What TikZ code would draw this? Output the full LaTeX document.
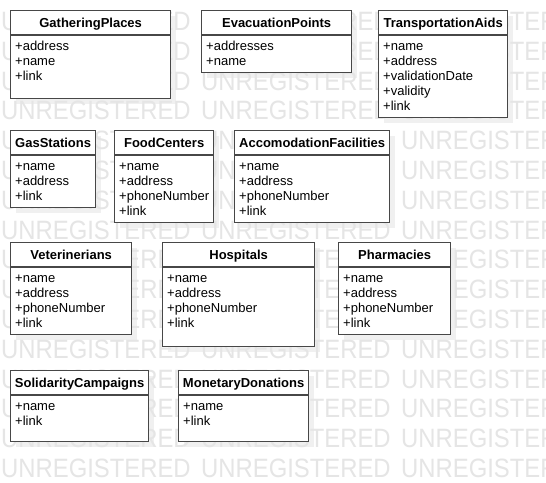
\documentclass[tikz,border=0pt]{standalone}
\usepackage{fontspec}
\setmainfont{Liberation Sans}
\pgfdeclarelayer{shadowlayer}
\pgfdeclarelayer{marklayer}
\pgfsetlayers{shadowlayer,marklayer,main}
\definecolor{shadowc}{gray}{0.94}
\definecolor{markc}{gray}{0.9}
\definecolor{edgec}{gray}{0.28}
\tikzset{
  classbox/.style={draw=edgec, line width=1.3pt, fill=white, rectangle, inner sep=0pt},
  classline/.style={draw=edgec, line width=1.3pt},
  classtitle/.style={inner sep=0pt, font=\fontsize{13pt}{15pt}\selectfont\bfseries},
  classattr/.style={inner sep=0pt, font=\fontsize{13pt}{15pt}\selectfont},
  wmark/.style={inner sep=0pt, text=markc, font=\fontsize{26.5pt}{28pt}\selectfont},
}
\newcommand\umlclass[7]{%
  \begin{pgfonlayer}{shadowlayer}
    \fill[shadowc] (#2+6,#3+6) rectangle ++(#4,#5);
  \end{pgfonlayer}
  \node[classbox, minimum width=#4pt, minimum height=#5pt, anchor=north west] (#1) at (#2,#3) {};
  \draw[classline] ([yshift=-25pt]#1.north west) -- ([yshift=-25pt]#1.north east);
  \node[classtitle, anchor=base] (#1-title) at ([yshift=-17.5pt]#1.north) {#6};
  \foreach \a [count=\i] in {#7} {%
    \node[classattr, anchor=base west] (#1-a\i) at ([xshift=5pt,yshift={-25pt-15pt*\i}]#1.north west) {\a};
  }%
}
\begin{document}
\begin{tikzpicture}[x=1pt,y=-1pt]
\useasboundingbox (0,0) rectangle (546,482);
\begin{pgfonlayer}{shadowlayer}
  \fill[white] (0,0) rectangle (546,482);
\end{pgfonlayer}
\begin{pgfonlayer}{marklayer}
  \begin{scope}
    \clip (0,0) rectangle (546,482);
    \foreach \k in {0,...,15} {
      \foreach \c in {0,1,2} {
        \node[wmark, anchor=base west] (wm-\k-\c) at (1+200*\c, 30.5+29.8*\k) {\scalebox{0.9}[1]{UNREGISTERED}};
      }
    }
  \end{scope}
\end{pgfonlayer}
\umlclass{gp}{10}{10}{160}{88}{GatheringPlaces}{+address,+name,+link}
\umlclass{ep}{201}{10}{150}{62}{EvacuationPoints}{+addresses,+name}
\umlclass{ta}{378}{10}{129}{107}{TransportationAids}{+name,+address,+validationDate,+validity,+link}
\umlclass{gs}{10}{130}{85}{77}{GasStations}{+name,+address,+link}
\umlclass{fc}{114}{130}{99}{92}{FoodCenters}{+name,+address,+phoneNumber,+link}
\umlclass{af}{234}{130}{155}{92}{AccomodationFacilities}{+name,+address,+phoneNumber,+link}
\umlclass{vt}{10}{242}{121}{92}{Veterinerians}{+name,+address,+phoneNumber,+link}
\umlclass{hs}{162}{242}{152}{104}{Hospitals}{+name,+address,+phoneNumber,+link}
\umlclass{ph}{338}{242}{112}{92}{Pharmacies}{+name,+address,+phoneNumber,+link}
\umlclass{sc}{10}{370}{138}{71}{SolidarityCampaigns}{+name,+link}
\umlclass{md}{178}{370}{130}{71}{MonetaryDonations}{+name,+link}
\end{tikzpicture}
\end{document}
